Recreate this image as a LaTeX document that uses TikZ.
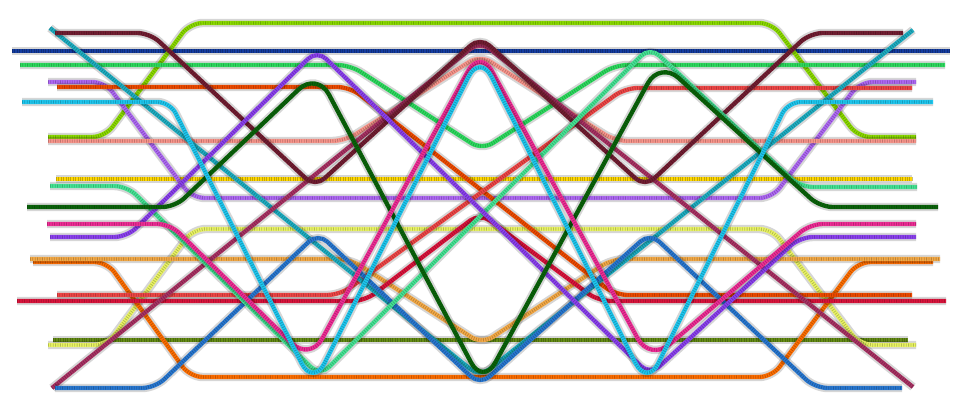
\documentclass[tikz,border=0pt]{standalone}
\usepackage{tikz}
\definecolor{limegreen}{RGB}{140,220,0}
\definecolor{maroondark}{RGB}{115,30,50}
\definecolor{tealline}{RGB}{30,175,195}
\definecolor{royalnavy}{RGB}{20,60,160}
\definecolor{brightgreen}{RGB}{45,220,95}
\definecolor{lilac}{RGB}{175,105,245}
\definecolor{redorange}{RGB}{240,75,0}
\definecolor{softred}{RGB}{240,70,70}
\definecolor{skycyan}{RGB}{30,200,240}
\definecolor{salmonpink}{RGB}{250,150,140}
\definecolor{sunyellow}{RGB}{255,215,0}
\definecolor{mintgreen}{RGB}{70,230,150}
\definecolor{forestdark}{RGB}{10,100,10}
\definecolor{hotpink}{RGB}{240,45,150}
\definecolor{violet}{RGB}{140,65,240}
\definecolor{lightorange}{RGB}{245,170,70}
\definecolor{pumpkin}{RGB}{255,110,0}
\definecolor{crimson}{RGB}{220,20,60}
\definecolor{olivegreen}{RGB}{100,140,20}
\definecolor{paleyellow}{RGB}{235,245,100}
\definecolor{steelblue}{RGB}{40,120,210}
\definecolor{berry}{RGB}{170,50,100}
\tikzset{
  px/.style={x=0.025cm, y=-0.025cm},
  wire/.style={draw=#1, line width=3.1pt, rounded corners=9pt,
    preaction={draw=black, draw opacity=0.16, line width=6pt},
    postaction={draw=#1!55!black, draw opacity=0.5, line width=2.3pt, dash pattern=on 0.6pt off 1.1pt}},
  wide/.style={rounded corners=18pt},
  tight/.style={rounded corners=9pt},
}

\begin{document}
\begin{tikzpicture}[px]
  \useasboundingbox[fill=white] (0,0) rectangle (960,420);
  % straight runs
  \draw[wire=royalnavy] (12,51) -- (950,51);
  \draw[wire=sunyellow] (56,179) -- (912,179);
  \draw[wire=olivegreen] (53,340) -- (908,340);
  % wide loops
  \draw[wire=limegreen] (48,137) -- (105,137) -- (190,23) -- (772,23) -- (858,137) -- (916,137);
  \draw[wire=lilac] (48,82) -- (105,82) -- (192,198) -- (772,198) -- (860,82) -- (916,82);
  \draw[wire=paleyellow] (48,345) -- (107,345) -- (193,229) -- (772,229) -- (860,345) -- (916,345);
  \draw[wire=pumpkin] (33,262) -- (107,262) -- (190,377) -- (772,377) -- (858,262) -- (933,262);
  % middle dips and bumps
  \draw[wire=brightgreen] (20,65) -- (350,65) -- (482,150) -- (615,65) -- (945,65);
  \draw[wire=salmonpink] (48,141) -- (345,141) -- (480,55) -- (615,141) -- (916,141);
  \draw[wire=lightorange] (30,259) -- (350,259) -- (482,344) -- (612,259) -- (940,259);
  \draw[wire=crimson] (17,301) -- (365,301) -- (480,213) -- (598,301) -- (946,301);
  \draw[wire=redorange] (57,87) -- (350,87) -- (615,295) -- (912,295);
  \draw[wire=softred] (57,295) -- (340,295) -- (625,88) -- (912,88);
  % long diagonals
  \draw[wire=tealline] (50,28) -- (480,377) -- (913,30);
  \draw[wire=berry] (52,388) -- (480,41) -- (913,387);
  % zigzags
  \draw[wire=maroondark] (55,33) -- (150,33) -- (315,187) -- (480,37) -- (645,187) -- (810,33) -- (903,33);
  \draw[wire=steelblue] (55,388) -- (155,388) -- (318,233) -- (480,385) -- (650,233) -- (815,388) -- (902,388);
  \draw[wire=mintgreen] (50,186) -- (127,186) -- (320,376) -- (650,47) -- (800,187) -- (917,187);
  \draw[wire=violet] (50,237) -- (127,237) -- (317,50) -- (650,375) -- (800,237) -- (916,237);
  % steep zigzags
  \draw[wire=forestdark] (27,207) -- (175,207) [wide] -- (317,72) -- (483,385) -- (660,61) [tight] -- (820,207) -- (938,207);
  \draw[wire=hotpink] (47,224) -- (170,224) [wide] -- (310,361) -- (480,49) -- (650,361) [tight] -- (810,224) -- (916,224);
  \draw[wire=skycyan] (22,102) -- (170,102) [wide] -- (313,386) -- (480,54) -- (647,386) [tight] -- (788,102) -- (933,102);
\end{tikzpicture}
\end{document}
